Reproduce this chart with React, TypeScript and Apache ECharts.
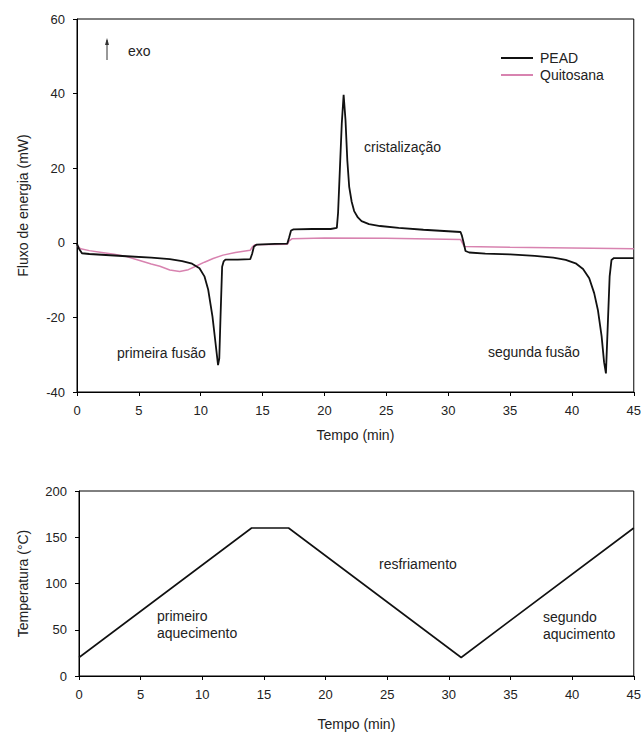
import React, { useEffect, useRef } from "react";
import * as echarts from "echarts";

// PEAD (black) DSC curve: time (min) and heat flow (mW)
const peadTime = [0, 0.15, 0.4, 1, 2, 4, 6, 7.5, 8.5, 9.3, 9.9, 10.3, 10.6, 10.95, 11.2, 11.4, 11.5, 11.6, 11.73, 11.85, 12.0, 12.4, 13, 14.0, 14.15, 14.3, 14.5, 15, 16, 17.0, 17.15, 17.3, 17.5, 19, 20.5, 21.0, 21.1, 21.25, 21.4, 21.55, 21.7, 21.85, 22.0, 22.2, 22.4, 22.7, 23.0, 23.6, 24.5, 26, 28, 30, 31.0, 31.1, 31.25, 31.4, 31.7, 33, 35, 37, 38.5, 39.5, 40.3, 40.9, 41.4, 41.8, 42.1, 42.4, 42.6, 42.75, 42.9, 43.05, 43.2, 43.4, 44, 45];
const peadFlow = [-0.3, -1.5, -2.8, -3.0, -3.2, -3.6, -4.0, -4.4, -4.9, -5.6, -6.8, -9, -12.5, -19.8, -27, -32.8, -31, -19.8, -6.4, -5.0, -4.5, -4.5, -4.5, -4.4, -3, -1.0, -0.5, -0.4, -0.3, -0.2, 1.5, 3.3, 3.6, 3.7, 3.7, 4.0, 8, 20, 32, 39.7, 33, 22, 15, 11, 8.5, 6.8, 5.8, 5.0, 4.5, 4.0, 3.5, 3.1, 2.9, 2.0, 0, -2.2, -2.6, -2.9, -3.1, -3.5, -4.0, -4.6, -5.5, -7.0, -9.5, -13.5, -18, -25, -32, -35, -22, -9, -4.6, -4.1, -4.1, -4.1];

// Quitosana (pink) DSC curve
const quitTime = [0, 0.3, 1, 2, 3, 4, 5, 6, 6.7, 7.5, 8.3, 9, 9.6, 10.3, 11, 11.8, 12.8, 14.0, 14.2, 14.4, 17.0, 17.15, 17.4, 20, 25, 31.0, 31.3, 35, 40, 45];
const quitFlow = [-0.8, -1.6, -2.1, -2.6, -3.1, -3.7, -4.7, -5.7, -6.3, -7.3, -7.7, -7.2, -6.3, -5.2, -4.2, -3.3, -2.6, -2.0, -1.0, -0.5, -0.4, 0.5, 1.1, 1.3, 1.2, 0.9, -1.0, -1.2, -1.4, -1.6];

// Temperature program
const tempTime = [0, 14, 17, 31, 45];
const tempValue = [20, 160, 160, 20, 160];

const xTicks = { min: 0, max: 45, interval: 5 };
const fluxTicks = { min: -40, max: 60, interval: 20 };
const tempTicks = { min: 0, max: 200, interval: 50 };

const seriesNames = ["PEAD", "Quitosana"];

const zip = (a: number[], b: number[]) => a.map((t, i) => [t, b[i]]);

const FONT = "Arial, 'Liberation Sans', sans-serif";
const TXT = "#222";

export default function App() {
  const ref = useRef<HTMLDivElement>(null);
  useEffect(() => {
    if (!ref.current) return;
    const chart = echarts.init(ref.current, null, { renderer: "svg" });
    const axisCommon = {
      axisLine: { show: true, onZero: false, lineStyle: { color: "#000", width: 1 } },
      axisTick: { show: true, inside: false, length: 4, lineStyle: { color: "#000" } },
      splitLine: { show: false },
      nameTextStyle: { fontFamily: FONT, fontSize: 14, color: TXT },
    };
    const label = (margin: number) => ({ margin, fontFamily: FONT, fontSize: 13, color: TXT });
    const txt = (text: string, x: number, y: number) => ({
      type: "text",
      x,
      y,
      style: { text, fontFamily: FONT, fontSize: 14, fill: TXT, verticalAlign: "middle", lineHeight: 17 },
    });
    chart.setOption({
      animation: false,
      backgroundColor: "#fff",
      grid: [
        { left: 77, top: 19, width: 559, height: 373, show: true, borderColor: "#000", borderWidth: 1, containLabel: false },
        { left: 79, top: 491, width: 559, height: 185, show: true, borderColor: "#000", borderWidth: 1, containLabel: false },
      ],
      xAxis: [
        { ...axisCommon, type: "value", gridIndex: 0, ...xTicks, axisLabel: label(12), name: "Tempo (min)", nameLocation: "middle", nameGap: 36 },
        { ...axisCommon, type: "value", gridIndex: 1, ...xTicks, axisLabel: label(12), name: "Tempo (min)", nameLocation: "middle", nameGap: 41 },
      ],
      yAxis: [
        { ...axisCommon, type: "value", gridIndex: 0, ...fluxTicks, axisLabel: label(12), name: "Fluxo de energia (mW)", nameLocation: "middle", nameGap: 47 },
        { ...axisCommon, type: "value", gridIndex: 1, ...tempTicks, axisLabel: label(12), name: "Temperatura (°C)", nameLocation: "middle", nameGap: 49 },
      ],
      legend: {
        data: seriesNames,
        orient: "vertical",
        left: 496,
        top: 46,
        icon: "rect",
        itemWidth: 32,
        itemHeight: 2,
        itemGap: 3,
        textStyle: { fontFamily: FONT, fontSize: 14, color: TXT, padding: [0, 0, 0, 2] },
      },
      series: [
        {
          name: seriesNames[0],
          type: "line",
          xAxisIndex: 0,
          yAxisIndex: 0,
          data: zip(peadTime, peadFlow),
          showSymbol: false,
          color: "#111",
          lineStyle: { color: "#111", width: 1.8 },
          z: 3,
        },
        {
          name: seriesNames[1],
          type: "line",
          xAxisIndex: 0,
          yAxisIndex: 0,
          data: zip(quitTime, quitFlow),
          showSymbol: false,
          color: "#d883b0",
          lineStyle: { color: "#d883b0", width: 1.5 },
          z: 2,
        },
        {
          name: "Temperatura",
          type: "line",
          xAxisIndex: 1,
          yAxisIndex: 1,
          data: zip(tempTime, tempValue),
          showSymbol: false,
          color: "#111",
          lineStyle: { color: "#111", width: 1.6 },
        },
      ],
      graphic: [
        { type: "line", shape: { x1: 107, y1: 60, x2: 107, y2: 40 }, style: { stroke: "#333", lineWidth: 1 } },
        { type: "polygon", shape: { points: [[105, 45], [107, 38], [109, 45]] }, style: { fill: "#333" } },
        txt("exo", 128, 51),
        txt("cristalização", 364, 147),
        txt("primeira fusão", 117, 353),
        txt("segunda fusão", 488, 352),
        txt("primeiro\naquecimento", 157, 624),
        txt("resfriamento", 379, 564),
        txt("segundo\naqucimento", 543, 625),
      ],
    });
    return () => chart.dispose();
  }, []);
  return <div ref={ref} style={{ position: "fixed", left: 0, top: 0, width: 644, height: 736 }} />;
}
